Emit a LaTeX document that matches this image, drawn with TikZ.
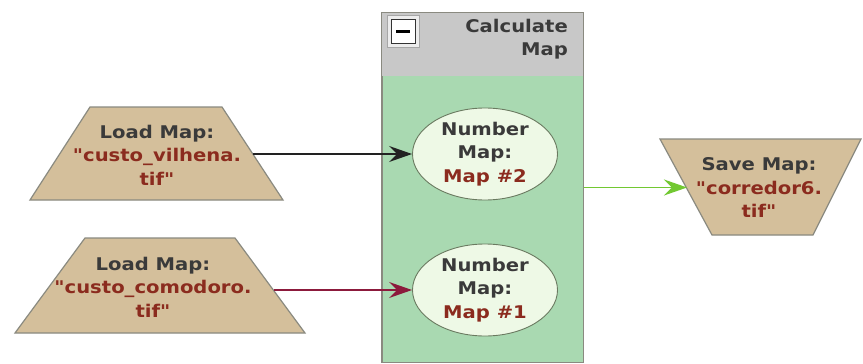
\documentclass[tikz,border=0pt]{standalone}
\usepackage{fontspec}
\setmainfont{DejaVu Sans}[FakeStretch=1.12, Ligatures=TeXOff]
\usetikzlibrary{arrows.meta,shapes.geometric}
\definecolor{tan}{HTML}{D4BF9B}
\definecolor{shapeline}{HTML}{8A8A80}
\definecolor{headgray}{HTML}{C8C8C8}
\definecolor{bodygreen}{HTML}{A9D9B1}
\definecolor{ellfill}{HTML}{EEF9E6}
\definecolor{ellline}{HTML}{6A7A60}
\definecolor{txtdark}{HTML}{3A3A3A}
\definecolor{fname}{HTML}{8B2B1E}
\definecolor{arrblack}{HTML}{222222}
\definecolor{arrmaroon}{HTML}{8C1A3C}
\definecolor{arrgreen}{HTML}{72C832}
\tikzset{
  trap/.style={fill=tan, draw=shapeline, line width=1.2pt},
  lbl/.style={align=center, text=txtdark, font=\fontsize{17.5}{23.5}\selectfont\bfseries, inner sep=0pt},
  ellshape/.style={ellipse, fill=ellfill, draw=ellline, line width=0.9pt, minimum width=145pt, minimum height=92pt, inner sep=0pt},
  link/.style={line width=1.6pt, -{Stealth[length=23pt,width=16pt,inset=8pt]}}
}
\begin{document}
\begin{tikzpicture}[x=1pt,y=-1pt]
\useasboundingbox[fill=white] (0,0) rectangle (863,364);

% container "Calculate Map"
\node[rectangle, minimum width=201pt, minimum height=349pt, inner sep=0pt, fill=bodygreen, draw=shapeline, line width=1pt] (calc) at (482.5,187.5) {};
\fill[headgray] (calc.north west) rectangle (583,76);
\draw[shapeline, line width=1pt] (calc.north west) rectangle (calc.south east);
% collapse button
\node[rectangle, minimum width=32pt, minimum height=32pt, inner sep=0pt, fill=gray!15, draw=gray!70, line width=1pt] (btn) at (403,31.5) {};
\node[rectangle, minimum width=24pt, minimum height=24pt, inner sep=0pt, fill=white, draw=gray!40!black, line width=1pt] (btnin) at (btn.center) {};
\draw[black, line width=3pt] ([xshift=-7pt]btnin.center) -- ([xshift=7pt]btnin.center);
\node[lbl, align=right, anchor=north east] (calctitle) at (568,19) {Calculate\\Map};

% load map nodes
\draw[trap] (90,107) -- (222,107) -- (283,200) -- (30,200) -- cycle;
\node[lbl] (load1) at (157,155) {Load Map:\\\textcolor{fname}{"custo\_vilhena.}\\\textcolor{fname}{tif"}};
\coordinate (load1out) at (253,154);

\draw[trap] (85,238) -- (235,238) -- (305,333) -- (15,333) -- cycle;
\node[lbl] (load2) at (153,287) {Load Map:\\\textcolor{fname}{"custo\_comodoro.}\\\textcolor{fname}{tif"}};
\coordinate (load2out) at (274,290);

% save map node
\draw[trap] (660,139) -- (861,139) -- (813,235) -- (712,235) -- cycle;
\node[lbl] (save) at (759,188) {Save Map:\\\textcolor{fname}{"corredor6.}\\\textcolor{fname}{tif"}};
\coordinate (savein) at (687,187.5);

% number map nodes
\node[ellshape] (num2) at (485,154) {};
\node[lbl] (num2t) at (num2.center) {Number\\Map:\\\textcolor{fname}{Map \#2}};
\node[ellshape] (num1) at (485,290) {};
\node[lbl] (num1t) at (num1.center) {Number\\Map:\\\textcolor{fname}{Map \#1}};

% connectors
\draw[link, arrblack] (load1out) -- (num2.west);
\draw[link, arrmaroon] (load2out) -- (num1.west);
\draw[link, arrgreen] (calc.east) -- (savein);
\end{tikzpicture}
\end{document}
